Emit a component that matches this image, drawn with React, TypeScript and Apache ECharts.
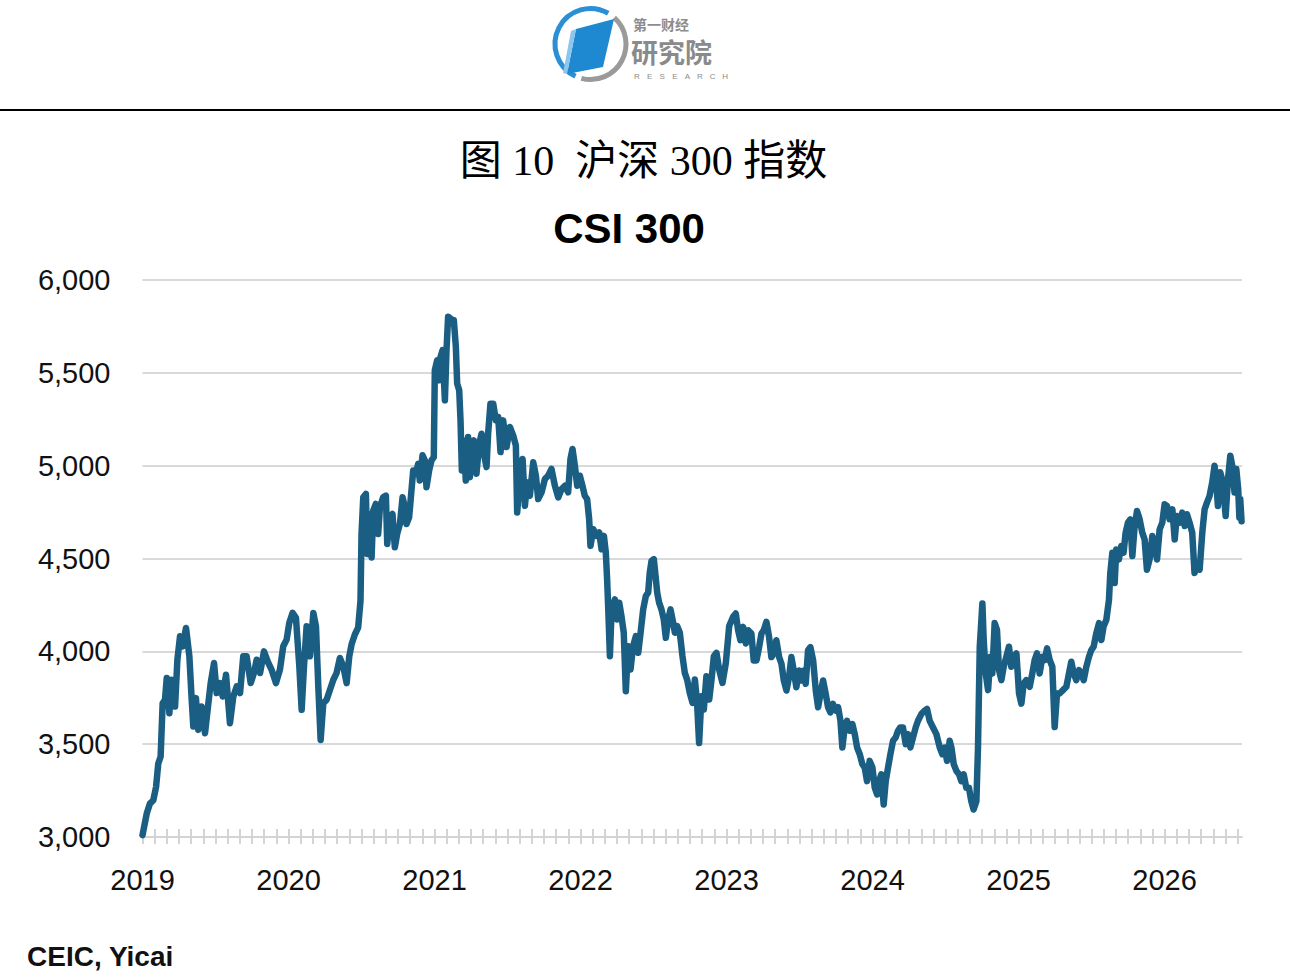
import React, { useEffect, useRef } from "react";
import * as echarts from "echarts";

// CSI 300 index, [decimal year, index level]
const csi2019: [number, number][] = [
  [2019.0, 3010], [2019.029, 3126], [2019.051, 3180], [2019.074, 3198], [2019.093, 3270], [2019.108, 3396],
  [2019.124, 3432], [2019.138, 3720], [2019.154, 3739], [2019.166, 3856], [2019.184, 3667], [2019.2, 3847],
  [2019.223, 3703], [2019.239, 3955], [2019.257, 4081], [2019.275, 4027], [2019.298, 4126], [2019.321, 3973],
  [2019.337, 3739], [2019.348, 3595], [2019.366, 3748], [2019.382, 3577], [2019.405, 3703], [2019.428, 3559],
  [2019.451, 3720], [2019.467, 3829], [2019.49, 3937], [2019.508, 3775], [2019.531, 3829], [2019.549, 3757],
  [2019.572, 3874], [2019.599, 3613], [2019.622, 3757], [2019.645, 3811], [2019.668, 3775], [2019.69, 3973],
  [2019.713, 3973], [2019.741, 3829], [2019.763, 3883], [2019.782, 3955], [2019.805, 3883], [2019.832, 4000],
  [2019.862, 3937], [2019.884, 3901], [2019.914, 3829], [2019.941, 3901], [2019.964, 4027], [2019.987, 4063],
];

const csi2020: [number, number][] = [
  [2020.005, 4153], [2020.028, 4207], [2020.051, 4180], [2020.074, 3919], [2020.09, 3685], [2020.106, 3919],
  [2020.124, 4135], [2020.147, 3973], [2020.17, 4207], [2020.188, 4135], [2020.204, 3811], [2020.22, 3523],
  [2020.238, 3720], [2020.261, 3739], [2020.284, 3793], [2020.307, 3847], [2020.329, 3883], [2020.352, 3964],
  [2020.375, 3919], [2020.398, 3829], [2020.416, 3973], [2020.432, 4038], [2020.455, 4092], [2020.477, 4128],
  [2020.493, 4272], [2020.5, 4632], [2020.512, 4830], [2020.53, 4848], [2020.539, 4524], [2020.553, 4740],
  [2020.569, 4506], [2020.58, 4758], [2020.598, 4794], [2020.614, 4632], [2020.626, 4776], [2020.648, 4830],
  [2020.667, 4839], [2020.676, 4578], [2020.694, 4722], [2020.712, 4740], [2020.728, 4560], [2020.744, 4632],
  [2020.763, 4686], [2020.781, 4830], [2020.797, 4776], [2020.808, 4686], [2020.826, 4722], [2020.842, 4866],
  [2020.854, 4974], [2020.872, 4956], [2020.888, 5010], [2020.899, 4920], [2020.918, 5056], [2020.934, 5028],
  [2020.945, 4884], [2020.963, 4974], [2020.979, 5028], [2020.995, 5046],
];

const csi2021: [number, number][] = [
  [2021.002, 5514], [2021.018, 5568], [2021.032, 5460], [2021.041, 5586], [2021.055, 5622], [2021.071, 5352],
  [2021.082, 5622], [2021.093, 5802], [2021.109, 5793], [2021.123, 5766], [2021.132, 5784], [2021.146, 5640],
  [2021.155, 5442], [2021.169, 5406], [2021.178, 5244], [2021.187, 4974], [2021.201, 5136], [2021.214, 4920],
  [2021.23, 5154], [2021.242, 4938], [2021.253, 5082], [2021.269, 5136], [2021.287, 4956], [2021.306, 5118],
  [2021.322, 5172], [2021.338, 5064], [2021.356, 4992], [2021.367, 5172], [2021.383, 5334], [2021.402, 5334],
  [2021.42, 5244], [2021.436, 5262], [2021.452, 5073], [2021.47, 5244], [2021.493, 5100], [2021.516, 5208],
  [2021.539, 5162], [2021.557, 5108], [2021.566, 4748], [2021.584, 4928], [2021.603, 5036], [2021.619, 4784],
  [2021.635, 4910], [2021.653, 4838], [2021.676, 5018], [2021.694, 4946], [2021.71, 4820], [2021.733, 4856],
  [2021.756, 4928], [2021.778, 4946], [2021.801, 4982], [2021.824, 4892], [2021.847, 4829], [2021.87, 4874],
  [2021.893, 4892], [2021.915, 4856], [2021.931, 5036], [2021.945, 5090], [2021.961, 5000], [2021.977, 4892],
  [2021.995, 4946],
];

const csi2022: [number, number][] = [
  [2022.013, 4892], [2022.029, 4838], [2022.045, 4820], [2022.059, 4712], [2022.068, 4568], [2022.087, 4658],
  [2022.109, 4622], [2022.128, 4640], [2022.144, 4550], [2022.16, 4622], [2022.173, 4532], [2022.182, 4388],
  [2022.189, 4244], [2022.201, 3974], [2022.212, 4208], [2022.235, 4280], [2022.251, 4172], [2022.265, 4262],
  [2022.28, 4190], [2022.296, 4100], [2022.31, 3785], [2022.326, 4028], [2022.342, 3902], [2022.36, 4028],
  [2022.379, 4082], [2022.395, 3992], [2022.411, 4100], [2022.429, 4226], [2022.447, 4298], [2022.463, 4316],
  [2022.474, 4424], [2022.486, 4487], [2022.502, 4496], [2022.516, 4388], [2022.525, 4316], [2022.538, 4262],
  [2022.554, 4226], [2022.57, 4172], [2022.584, 4073], [2022.6, 4172], [2022.616, 4226], [2022.63, 4172],
  [2022.646, 4100], [2022.662, 4136], [2022.68, 4100], [2022.698, 3974], [2022.714, 3884], [2022.73, 3848],
  [2022.748, 3776], [2022.767, 3722], [2022.783, 3848], [2022.798, 3722], [2022.812, 3506], [2022.828, 3758],
  [2022.844, 3686], [2022.862, 3866], [2022.881, 3740], [2022.897, 3848], [2022.913, 3974], [2022.931, 3992],
  [2022.949, 3902], [2022.972, 3830], [2022.995, 3938],
];

const csi2023: [number, number][] = [
  [2023.018, 4136], [2023.045, 4186], [2023.063, 4204], [2023.079, 4114], [2023.095, 4060], [2023.113, 4132],
  [2023.132, 4042], [2023.148, 4114], [2023.17, 4096], [2023.186, 3951], [2023.205, 3951], [2023.223, 4023],
  [2023.239, 4096], [2023.255, 4114], [2023.273, 4159], [2023.291, 4078], [2023.307, 3969], [2023.323, 3987],
  [2023.341, 4060], [2023.36, 3969], [2023.376, 3933], [2023.392, 3843], [2023.41, 3789], [2023.428, 3861],
  [2023.444, 3969], [2023.46, 3897], [2023.478, 3807], [2023.497, 3897], [2023.513, 3843], [2023.529, 3897],
  [2023.542, 3825], [2023.558, 4005], [2023.574, 4023], [2023.593, 3951], [2023.611, 3789], [2023.627, 3699],
  [2023.643, 3771], [2023.661, 3843], [2023.679, 3771], [2023.695, 3699], [2023.711, 3671], [2023.729, 3717],
  [2023.748, 3681], [2023.764, 3699], [2023.78, 3626], [2023.793, 3482], [2023.809, 3590], [2023.825, 3626],
  [2023.844, 3572], [2023.862, 3608], [2023.878, 3554], [2023.894, 3482], [2023.912, 3446], [2023.93, 3392],
  [2023.946, 3374], [2023.962, 3301], [2023.98, 3410], [2023.999, 3374],
];

const csi2024: [number, number][] = [
  [2024.015, 3265], [2024.031, 3229], [2024.044, 3301], [2024.06, 3338], [2024.076, 3175], [2024.09, 3301],
  [2024.106, 3374], [2024.122, 3446], [2024.14, 3518], [2024.158, 3536], [2024.174, 3572], [2024.19, 3590],
  [2024.208, 3590], [2024.227, 3500], [2024.243, 3554], [2024.259, 3482], [2024.277, 3536], [2024.295, 3590],
  [2024.311, 3626], [2024.334, 3662], [2024.357, 3681], [2024.373, 3690], [2024.391, 3626], [2024.414, 3590],
  [2024.437, 3554], [2024.46, 3482], [2024.478, 3446], [2024.494, 3482], [2024.51, 3410], [2024.528, 3518],
  [2024.54, 3482], [2024.556, 3392], [2024.574, 3356], [2024.592, 3338], [2024.608, 3301], [2024.624, 3338],
  [2024.642, 3265], [2024.66, 3265], [2024.676, 3193], [2024.692, 3148], [2024.711, 3193], [2024.722, 3482],
  [2024.734, 4023], [2024.752, 4258], [2024.761, 4061], [2024.775, 3881], [2024.791, 3791], [2024.807, 3971],
  [2024.82, 3881], [2024.836, 4152], [2024.852, 4116], [2024.866, 3899], [2024.882, 3845], [2024.898, 3917],
  [2024.916, 3971], [2024.934, 4025], [2024.95, 3917], [2024.966, 3971], [2024.985, 3989],
];

const csi2025: [number, number][] = [
  [2025.003, 3773], [2025.019, 3718], [2025.035, 3827], [2025.053, 3845], [2025.076, 3809], [2025.094, 3881],
  [2025.11, 3953], [2025.126, 3989], [2025.144, 3881], [2025.163, 3971], [2025.179, 3953], [2025.195, 4016],
  [2025.213, 3953], [2025.231, 3917], [2025.247, 3592], [2025.263, 3773], [2025.281, 3773], [2025.304, 3791],
  [2025.327, 3809], [2025.345, 3881], [2025.361, 3944], [2025.377, 3881], [2025.395, 3845], [2025.414, 3899],
  [2025.43, 3881], [2025.446, 3845], [2025.464, 3917], [2025.482, 3971], [2025.498, 4007], [2025.514, 4025],
  [2025.532, 4097], [2025.551, 4152], [2025.567, 4061], [2025.582, 4134], [2025.601, 4170], [2025.619, 4278],
  [2025.628, 4422], [2025.642, 4531], [2025.658, 4368], [2025.669, 4549], [2025.687, 4495], [2025.703, 4567],
  [2025.719, 4531], [2025.733, 4639], [2025.749, 4693], [2025.765, 4711], [2025.779, 4513], [2025.795, 4675],
  [2025.811, 4756], [2025.829, 4711], [2025.847, 4639], [2025.863, 4603], [2025.879, 4440], [2025.897, 4495],
  [2025.916, 4621], [2025.932, 4567], [2025.948, 4495], [2025.966, 4657], [2025.984, 4693],
];

const csi2026: [number, number][] = [
  [2026.0, 4792], [2026.016, 4783], [2026.034, 4711], [2026.053, 4765], [2026.069, 4603], [2026.084, 4729],
  [2026.103, 4693], [2026.121, 4747], [2026.137, 4675], [2026.153, 4738], [2026.171, 4693], [2026.189, 4639],
  [2026.205, 4422], [2026.221, 4458], [2026.24, 4440], [2026.258, 4639], [2026.274, 4765], [2026.29, 4801],
  [2026.308, 4837], [2026.326, 4910], [2026.342, 5000], [2026.354, 4910], [2026.365, 4783], [2026.381, 4964],
  [2026.399, 4910], [2026.418, 4729], [2026.434, 4928], [2026.45, 5054], [2026.463, 5000], [2026.479, 4856],
  [2026.491, 4982], [2026.504, 4874], [2026.512, 4720], [2026.518, 4820], [2026.527, 4700],
];

const yTicks = [3000, 3500, 4000, 4500, 5000, 5500, 6000];
const yearLabels = [2019, 2020, 2021, 2022, 2023, 2024, 2025, 2026];
const axisStartYear = 2019;
const axisEndYear = 2026.53;

const titleCn = "图 10  沪深 300 指数";
const titleEn = "CSI 300";
const sourceText = "CEIC, Yicai";
const logoTop = "第一财经";
const logoMain = "研究院";
const logoSub = "RESEARCH";

const LINE_COLOR = "#1b5e83";
const GRID_COLOR = "#d9d9d9";
const SANS = "'Liberation Sans', Arial, Helvetica, sans-serif";

export default function App() {
  const ref = useRef<HTMLDivElement>(null);

  useEffect(() => {
    if (!ref.current) return;
    const chart = echarts.init(ref.current, null, { renderer: "svg" });

    const toMonths = (t: number) => (t - axisStartYear) * 12;
    const series = [csi2019, csi2020, csi2021, csi2022, csi2023, csi2024, csi2025, csi2026]
      .flat()
      .map(([t, v]) => [toMonths(t), v]);
    const maxM = toMonths(axisEndYear);
    const yearPos = yearLabels.map((y) => (y - axisStartYear) * 12);
    const monthTicks: number[] = [];
    for (let m = 0; m <= Math.floor(maxM); m++) monthTicks.push(m);

    const gridLeft = 142.5;
    const gridRight = 48;
    const gridTop = 280;
    const gridBottom = 141;

    // spaced-out "RESEARCH" under the logo
    const subLetters = logoSub.split("").map((ch, i) => ({
      type: "text",
      x: 637 + i * 12.6,
      y: 76,
      style: { text: ch, fontSize: 8, lineHeight: 8, fontFamily: SANS, fill: "#8a8a8a", align: "center", verticalAlign: "middle" },
    }));

    chart.setOption({
      animation: false,
      backgroundColor: "#ffffff",
      grid: [
        { left: gridLeft, right: gridRight, top: gridTop, bottom: gridBottom, containLabel: false },
        { left: gridLeft, right: gridRight, top: gridTop, bottom: 149, containLabel: false },
      ],
      xAxis: [
        {
          type: "value",
          gridIndex: 0,
          min: 0,
          max: maxM,
          axisLine: { show: true, lineStyle: { color: "#d4d4d4", width: 2 } },
          axisTick: { show: false },
          splitLine: { show: false },
          axisLabel: {
            customValues: yearPos,
            formatter: (v: number) => String(Math.round(axisStartYear + v / 12)),
            fontSize: 29,
            fontFamily: SANS,
            color: "#111111",
            margin: 28,
          },
        },
        {
          type: "value",
          gridIndex: 1,
          min: 0,
          max: maxM,
          axisLine: { show: false },
          axisTick: {
            show: true,
            inside: false,
            length: 15,
            customValues: monthTicks,
            lineStyle: { color: "#d4d4d4", width: 2 },
          },
          axisLabel: { show: false },
          splitLine: { show: false },
        },
      ],
      yAxis: [
        {
          type: "value",
          gridIndex: 0,
          min: yTicks[0],
          max: yTicks[yTicks.length - 1],
          interval: 500,
          axisLine: { show: false },
          axisTick: { show: false },
          splitLine: { show: true, lineStyle: { color: GRID_COLOR, width: 2 } },
          axisLabel: {
            formatter: (v: number) => v.toLocaleString("en-US"),
            fontSize: 29,
            fontFamily: SANS,
            color: "#111111",
            margin: 32,
          },
        },
        { type: "value", gridIndex: 1, show: false, min: 0, max: 1 },
      ],
      series: [
        {
          type: "line",
          name: titleEn,
          xAxisIndex: 0,
          yAxisIndex: 0,
          data: series,
          symbol: "none",
          showSymbol: false,
          lineStyle: { color: LINE_COLOR, width: 6.5, join: "round", cap: "round" },
          z: 5,
        },
      ],
      graphic: [
        // logo ring
        {
          type: "arc",
          shape: { cx: 590.5, cy: 44, r: 35.5, startAngle: (115 * Math.PI) / 180, endAngle: (300 * Math.PI) / 180, clockwise: true },
          style: { stroke: "#2b8fd6", lineWidth: 5, fill: null },
        },
        {
          type: "arc",
          shape: { cx: 590.5, cy: 44, r: 35.5, startAngle: (312 * Math.PI) / 180, endAngle: (105 * Math.PI) / 180, clockwise: true },
          style: { stroke: "#9a9a9a", lineWidth: 5, fill: null },
        },
        {
          type: "polygon",
          shape: { points: [[576, 29], [614, 19], [603, 67], [567, 74]] },
          style: { fill: "#1e88d0" },
        },
        {
          type: "polygon",
          shape: { points: [[571, 31], [576, 29], [567, 74], [563, 73]] },
          style: { fill: "#8cc6ec" },
        },
        {
          type: "text",
          x: 633,
          y: 23.5,
          style: { text: logoTop, fontSize: 14, lineHeight: 14, fontWeight: "bold", fontFamily: "'Noto Sans CJK SC'", fill: "#8c8c8c", align: "left", verticalAlign: "middle" },
        },
        {
          type: "text",
          x: 631,
          y: 51,
          style: { text: logoMain, fontSize: 27, lineHeight: 27, fontWeight: "bold", fontFamily: "'Noto Sans CJK SC'", fill: "#8a8a8a", align: "left", verticalAlign: "middle" },
        },
        ...subLetters,
        // header rule
        {
          type: "line",
          shape: { x1: 0, y1: 110, x2: 1290, y2: 110 },
          style: { stroke: "#000000", lineWidth: 2 },
        },
        {
          type: "text",
          x: 643.5,
          y: 161,
          style: {
            text: titleCn,
            fontSize: 42,
            fontFamily: "'Liberation Serif', 'Noto Sans CJK SC', serif",
            fill: "#000000",
            align: "center",
            verticalAlign: "middle",
          },
        },
        {
          type: "text",
          x: 629,
          y: 228,
          style: {
            text: titleEn,
            fontSize: 42,
            fontWeight: "bold",
            fontFamily: SANS,
            fill: "#000000",
            align: "center",
            verticalAlign: "middle",
          },
        },
        {
          type: "text",
          x: 27,
          y: 956,
          style: {
            text: sourceText,
            fontSize: 28,
            fontWeight: "bold",
            fontFamily: SANS,
            fill: "#111111",
            align: "left",
            verticalAlign: "middle",
          },
        },
      ],
    });

    return () => chart.dispose();
  }, []);

  return (
    <div
      ref={ref}
      style={{ position: "absolute", left: 0, top: 0, width: 1290, height: 978, background: "#fff" }}
    />
  );
}
